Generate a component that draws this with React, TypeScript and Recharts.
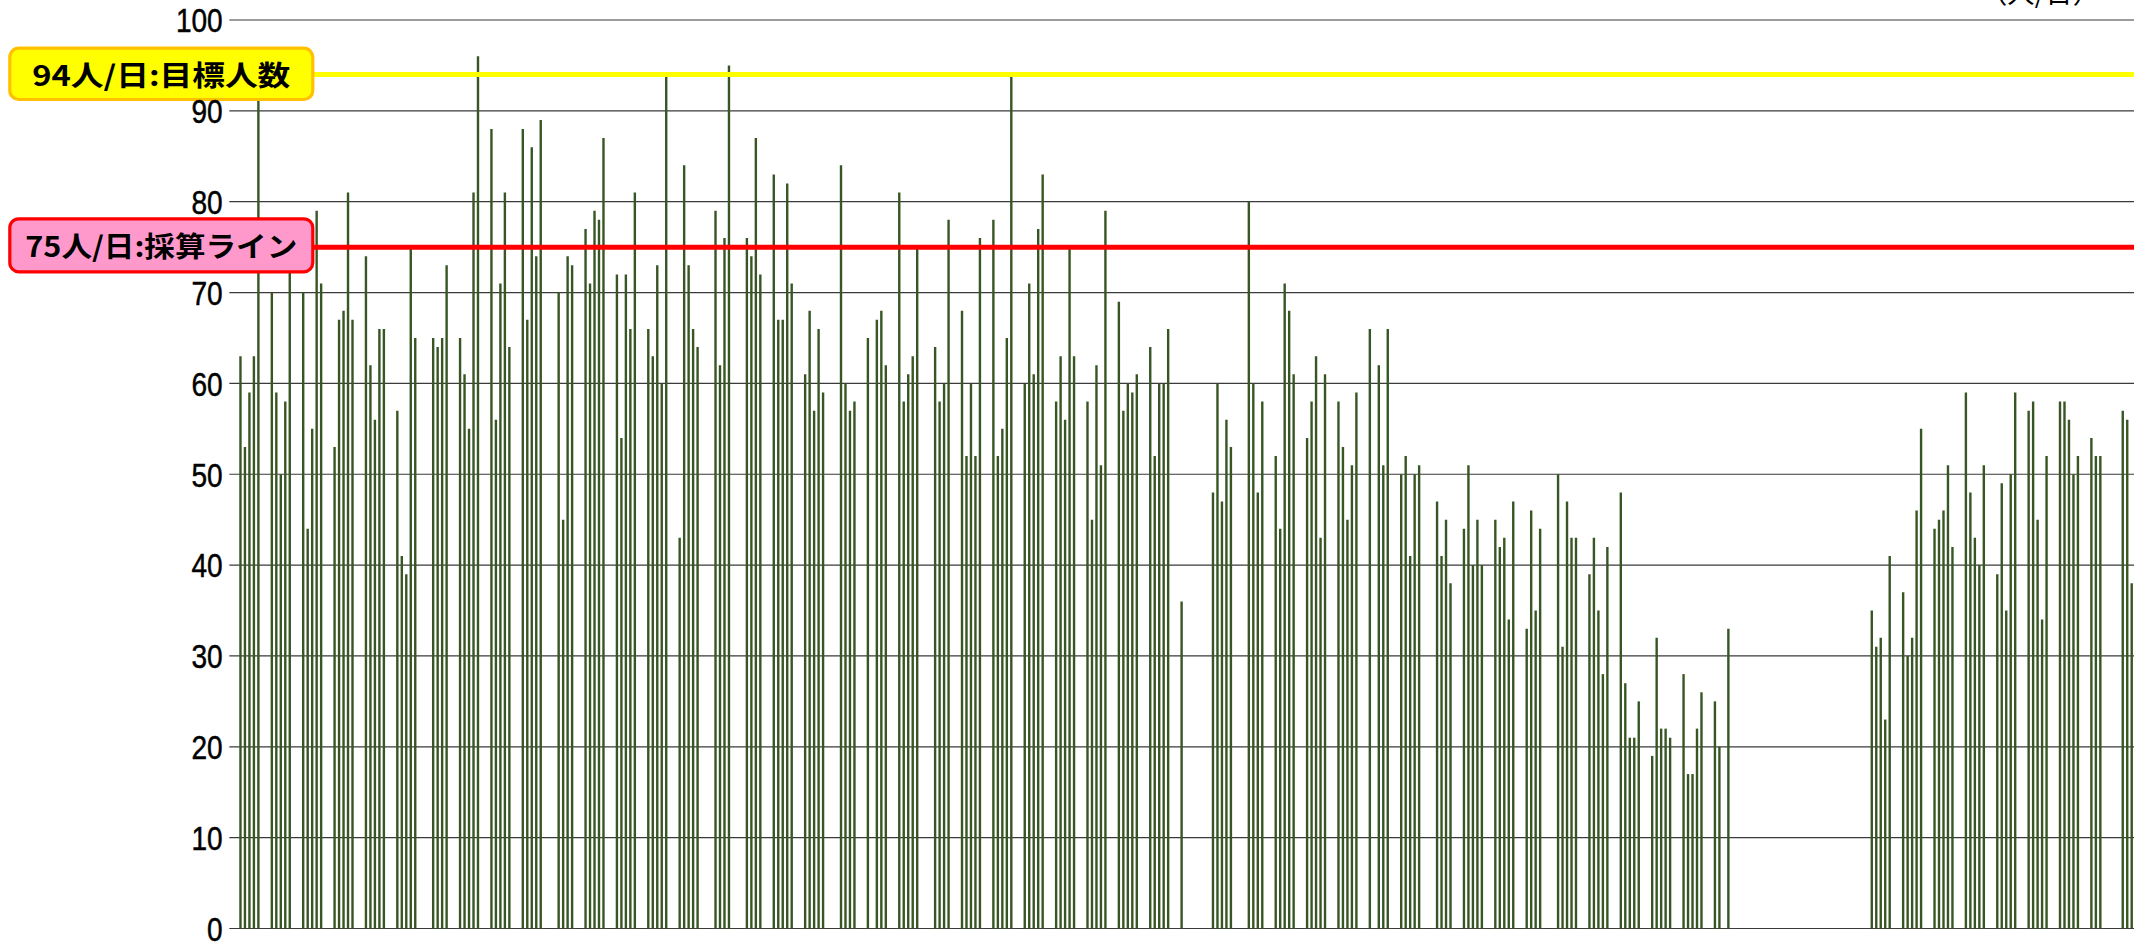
import React from "react";
import { BarChart, Bar, XAxis, YAxis, CartesianGrid, ReferenceLine } from "recharts";

// Daily visitors (人/日). Each row is one week: Sat, Sun, Mon, Tue, Wed, Thu, Fri. null = closed.
const dailyVisitors: (number | null)[] = [
  null, null, 63, 53, 59, 63, 92,
  null, null, 70, 59, 50, 58, 73,
  null, null, 70, 44, 55, 79, 71,
  null, null, 53, 67, 68, 81, 67,
  null, null, 74, 62, 56, 66, 66,
  null, null, 57, 41, 39, 75, 65,
  null, null, null, 65, 64, 65, 73,
  null, null, 65, 61, 55, 81, 96,
  null, null, 88, 56, 71, 81, 64,
  null, null, 88, 67, 86, 74, 89,
  null, null, null, 70, 45, 74, 73,
  null, null, 77, 71, 79, 78, 87,
  null, null, 72, 54, 72, 66, 81,
  null, null, 66, 63, 73, 60, 94,
  null, null, 43, 84, 73, 66, 64,
  null, null, null, 79, 62, 76, 95,
  null, null, null, 76, 74, 87, 72,
  null, null, 83, 67, 67, 82, 71,
  null, null, 61, 68, 57, 66, 59,
  null, null, null, 84, 60, 57, 58,
  null, null, 65, null, 67, 68, 62,
  null, null, 81, 58, 61, 63, 75,
  null, null, null, 64, 58, 60, 78,
  null, null, 68, 52, 60, 52, 76,
  null, null, 78, 52, 55, 65, 94,
  null, null, 60, 71, 61, 77, 83,
  null, null, 58, 63, 56, 75, 63,
  null, null, 58, 45, 62, 51, 79,
  null, null, 69, 57, 60, 59, 61,
  null, null, 64, 52, 60, 60, 66,
  null, null, 36, null, null, null, null,
  null, null, 48, 60, 47, 56, 53,
  null, null, null, 80, 60, 48, 58,
  null, null, 52, 44, 71, 68, 61,
  null, null, 54, 58, 63, 43, 61,
  null, null, 58, 53, 45, 51, 59,
  null, null, 66, null, 62, 51, 66,
  null, null, 50, 52, 41, 50, 51,
  null, null, null, 47, 41, 45, 38,
  null, null, 44, 51, 40, 45, 40,
  null, null, 45, 42, 43, 34, 47,
  null, null, 33, 46, 35, 44, null,
  null, null, 50, 31, 47, 43, 43,
  null, null, 39, 43, 35, 28, 42,
  null, null, 48, 27, 21, 21, 25,
  null, null, 19, 32, 22, 22, 21,
  null, null, 28, 17, 17, 22, 26,
  null, null, 25, 20, null, 33, null,
  null, null, null, null, null, null, null,
  null, null, null, null, null, null, null,
  null, null, null, null, null, null, null,
  null, null, null, null, null, null, null,
  null, null, 35, 31, 32, 23, 41,
  null, null, 37, 30, 32, 46, 55,
  null, null, 44, 45, 46, 51, 42,
  null, null, 59, 48, 43, 40, 51,
  null, null, 39, 49, 35, 50, 59,
  null, null, 57, 58, 45, 34, 52,
  null, null, 58, 58, 56, 50, 52,
  null, null, 54, 52, 52, null, null,
  null, null, 57, 56, 38,
];

const yTicks = [0, 10, 20, 30, 40, 50, 60, 70, 80, 90, 100];
const targetValue = 94;
const breakEvenValue = 75;
const targetLabel = "94人/日:目標人数";
const breakEvenLabel = "75人/日:採算ライン";
const unitLabel = "（人/日）";

const data = dailyVisitors.map((v, i) => ({ day: i + 1, visitors: v }));

const YTick = (props: any) => {
  const { x, y, payload } = props;
  const s = String(payload.value);
  return (
    <text
      x={x}
      y={y + 12.3}
      textAnchor="end"
      fontFamily="'Liberation Sans', Arial, sans-serif"
      fontSize={34}
      fill="#000"
      stroke="#000"
      strokeWidth={0.5}
      textLength={s.length * 15.6}
      lengthAdjust="spacingAndGlyphs"
    >
      {s}
    </text>
  );
};

const makeLabel =
  (text: string, fill: string, stroke: string, textLen: number, boxOffset: number, boxH: number, textOffset: number) =>
  (props: any) => {
    const vb = props.viewBox || {};
    const ly = vb.y ?? 0;
    const left = (vb.x ?? 0) - 219.5;
    const w = 303;
    return (
      <g>
        <rect
          x={left}
          y={ly + boxOffset - boxH / 2}
          width={w}
          height={boxH}
          rx={9}
          ry={9}
          fill={fill}
          stroke={stroke}
          strokeWidth={3.2}
        />
        <text
          x={left + w / 2}
          y={ly + textOffset}
          textAnchor="middle"
          fontFamily="'Noto Sans CJK JP', sans-serif"
          fontWeight={700}
          fontSize={28}
          fill="#000"
          textLength={textLen}
          lengthAdjust="spacingAndGlyphs"
        >
          {text}
        </text>
      </g>
    );
  };

export default function App() {
  return (
    <div style={{ position: "relative", width: 2134, height: 950, overflow: "hidden", background: "#fff" }}>
      <style>{"body{margin:0;overflow:hidden;background:#fff}"}</style>
      <BarChart
        width={2134}
        height={950}
        data={data}
        margin={{ top: 20, right: 0, bottom: 21.5, left: 0 }}
        barCategoryGap={0}
      >
        <CartesianGrid vertical={false} stroke="#3a3a3a" strokeWidth={1.2} />
        <XAxis dataKey="day" hide height={0} />
        <YAxis
          width={229.3}
          domain={[0, 100]}
          ticks={yTicks}
          interval={0}
          axisLine={false}
          tickLine={false}
          tickSize={0}
          tickMargin={6.6}
          tick={<YTick />}
        />
        <Bar dataKey="visitors" fill="#375623" barSize={2.4} isAnimationActive={false} />
        <ReferenceLine
          y={breakEvenValue}
          stroke="#FF0000"
          strokeWidth={5}
          label={makeLabel(breakEvenLabel, "#FF99CC", "#FF0000", 272, -1.8, 53, 10.2)}
        />
        <ReferenceLine
          y={targetValue}
          stroke="#FFFF00"
          strokeWidth={5}
          label={makeLabel(targetLabel, "#FFFF00", "#FFC000", 258, -0.65, 51.3, 11.9)}
        />
      </BarChart>
      <svg width={2134} height={30} style={{ position: "absolute", left: 0, top: 0 }}>
        <text
          x={1980}
          y={3}
          fontFamily="'Noto Sans CJK JP', sans-serif"
          fontSize={26}
          fill="#000"
          textLength={120}
          lengthAdjust="spacingAndGlyphs"
        >
          {unitLabel}
        </text>
      </svg>
    </div>
  );
}
